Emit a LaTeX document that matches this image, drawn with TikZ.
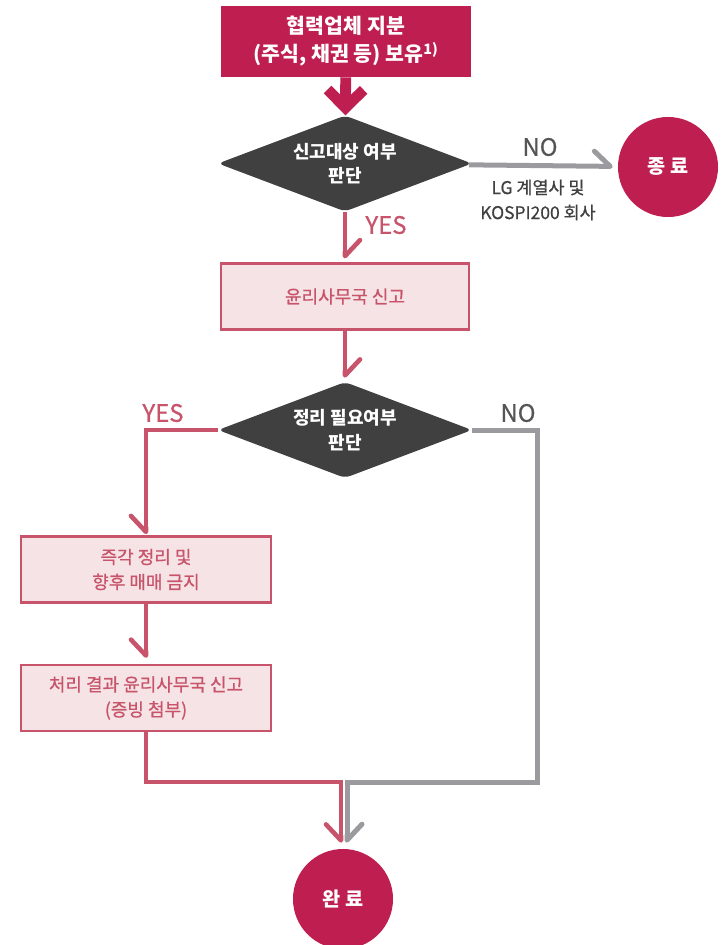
\documentclass[tikz,border=0pt]{standalone}
\usepackage{fontspec}
\setmainfont{Noto Sans CJK KR}
\newfontfamily\medfont[FakeBold=0.7]{Noto Sans CJK KR}
\usepackage{tikz}
\usetikzlibrary{positioning}
\usetikzlibrary{arrows.meta,shapes}
\usetikzlibrary{shapes.geometric}
\definecolor{lgred}{HTML}{BE1E50}
\definecolor{lgpink}{HTML}{C8546B}
\definecolor{lgpinkfill}{HTML}{F6E3E5}
\definecolor{lgdark}{HTML}{404040}
\definecolor{lggray}{HTML}{9B9B9F}
\definecolor{lglabel}{HTML}{555555}
\tikzstyle{startbox}=[rectangle,fill=lgred,text=white,font=\bfseries\fontsize{14.6}{19.9}\selectfont,align=center,minimum width=6.25cm,minimum height=1.775cm,inner sep=0pt]
\tikzstyle{decision}=[diamond,fill=lgdark,text=white,font=\bfseries\fontsize{12.8}{17.5}\selectfont,align=center,aspect=2.7,minimum width=6.35cm,minimum height=2.4cm,inner sep=0pt,rounded corners=4pt]
\tikzstyle{procbox}=[rectangle,draw=lgpink,line width=1.8pt,fill=lgpinkfill,text=lgpink,font=\medfont\fontsize{12.8}{17.8}\selectfont,align=center,minimum width=6.2cm,minimum height=1.64cm,inner sep=0pt]
\tikzstyle{endpoint}=[circle,fill=lgred,text=white,font=\bfseries\fontsize{14}{17}\selectfont,minimum size=2.5cm,inner sep=0pt]
\tikzstyle{bigarrow} = [draw,lgred,line width=0.27cm,-{Straight Barb[length=0.45cm,width=0.9cm]}]
\tikzstyle{yesedge} = [draw,lgpink,line width=0.115cm]
\tikzstyle{noedge} = [draw,lggray,line width=0.125cm]
\tikzstyle{tipL} = [-{Straight Barb[length=0.4cm,width=0.75cm,left,round]}]
\tikzstyle{tipR} = [-{Straight Barb[length=0.4cm,width=0.75cm,right,round]}]
\tikzstyle{yeslabel} = [text=lgpink,font=\medfont\fontsize{17}{20}\selectfont]
\tikzstyle{nolabel} = [text=lglabel,font=\medfont\fontsize{17}{20}\selectfont]
\tikzstyle{notelabel} = [text=lgdark,align=center,font=\medfont\fontsize{12.4}{17.8}\selectfont]

\begin{document}
\begin{tikzpicture}[x=0.025cm,y=-0.025cm]
 \useasboundingbox (0,0) rectangle (723,945);

 % boxes
 \node[startbox] (start) at (346,41.5) {협력업체 지분\\(주식, 채권 등) 보유\textsuperscript{1)}};
 \node[decision] (check) at (345,163.5) {신고대상 여부\\판단};
 \node[endpoint] (stop) at (668,167) {종 료};
 \node[procbox] (report) at (345,296.5) {윤리사무국 신고};
 \node[decision] (review) at (345,430) {정리 필요여부\\판단};
 \node[procbox, minimum width=6.25cm] (sell) at (146,569.5) {즉각 정리 및\\향후 매매 금지};
 \node[procbox, minimum width=6.25cm] (result) at (146,698) {처리 결과 윤리사무국 신고\\(증빙 첨부)};
 \node[endpoint] (done) at (343,899) {완 료};

 \coordinate (noturn) at (537,782);
 \coordinate (mergeL) at (341,782);
 \coordinate (mergeR) at (347,782);

 % labels
 \foreach \pos/\name/\style/\label in {{(540,147)/noA/nolabel/NO}, {(538,200)/lgnote/notelabel/{LG 계열사 및\\KOSPI200 회사}}, {(386,225)/yesA/yeslabel/YES}, {(163,413)/yesB/yeslabel/YES}, {(518,413)/noB/nolabel/NO}}
    \node[\style] (\name) at \pos {\label};

 % connectors
 \path[bigarrow] (start) -- (check);
 \path[noedge,tipL,shorten >=0.125cm] (check) -- (stop);
 \foreach \source/ \dest in {check/report, report/review}
    \path[yesedge,tipL,shorten >=0.1cm] (\source) -- (\dest);
 \path[yesedge,tipR,shorten >=0.03cm] (review) -| (sell);
 \path[yesedge,tipR,shorten >=0.15cm] (sell) -- (result);
 \path[yesedge,tipR,shorten >=0.15cm] (result) |- (mergeL) -- (mergeL |- done.north);
 \path[noedge,tipL,shorten >=0.15cm] (review) -| (noturn) -- (mergeR) -- (mergeR |- done.north);

\end{tikzpicture}
\end{document}
